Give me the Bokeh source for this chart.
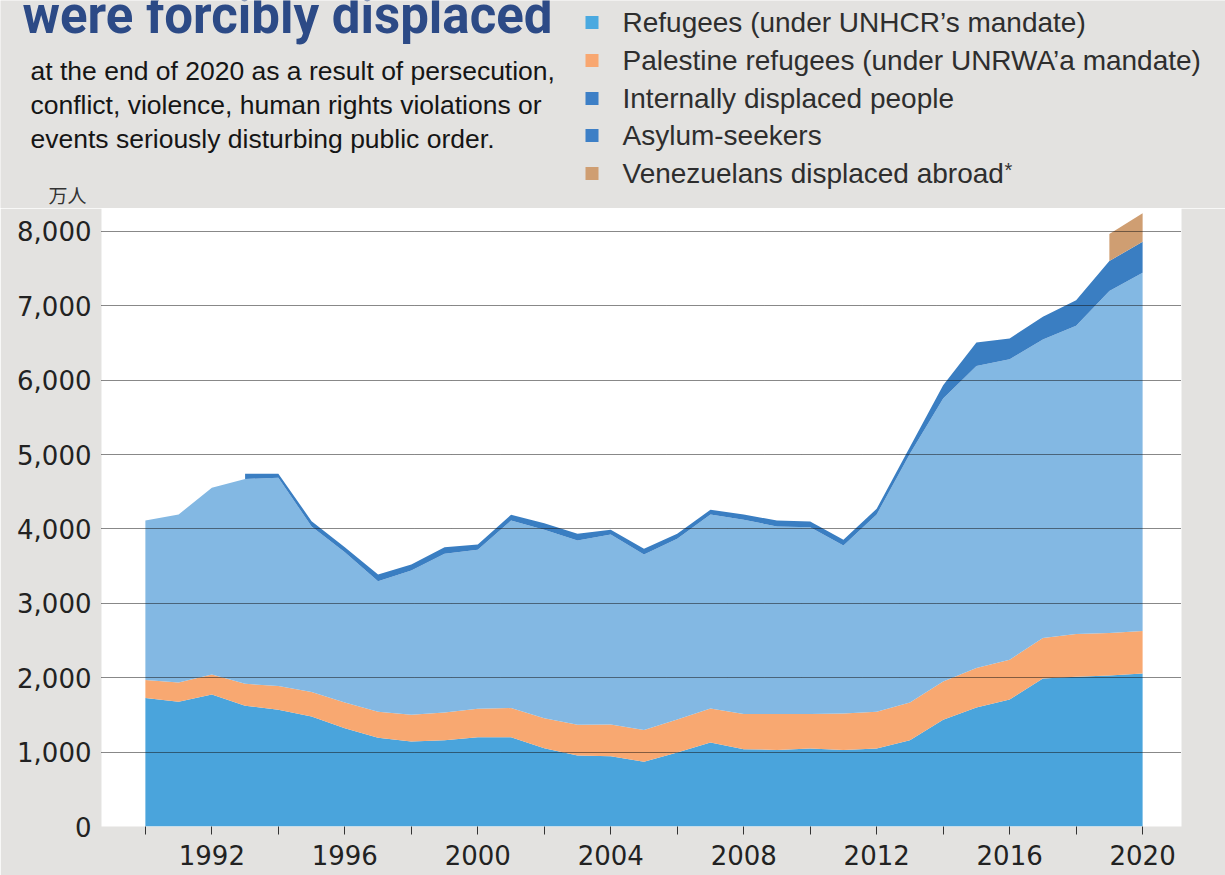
from bokeh.plotting import figure
from bokeh.layouts import column
from bokeh.models import Range1d, FixedTicker, NumeralTickFormatter, Label
from bokeh.embed import file_html
from bokeh.resources import INLINE

# ---------------- data (万人) ----------------
years = list(range(1990, 2021))
refugees = [1727, 1677, 1775, 1623, 1569, 1479, 1322, 1192, 1142, 1161,
            1201, 1201, 1053, 954, 945, 869, 994, 1129, 1040, 1030,
            1048, 1030, 1048, 1161, 1434, 1600, 1708, 1991, 2013, 2031, 2058]
palestine = [242, 260, 270, 296, 319, 328, 346, 350, 360, 372,
             381, 391, 404, 413, 426, 430, 444, 458, 471, 481,
             465, 490, 494, 507, 516, 530, 534, 543, 575, 571, 571]
idp = [2145, 2258, 2510, 2752, 2802, 2227, 2020, 1755, 1939, 2133,
       2138, 2522, 2532, 2478, 2555, 2358, 2430, 2608, 2613, 2523,
       2512, 2258, 2653, 3345, 3803, 4063, 4041, 4014, 4144, 4597, 4816]
asylum = [None, None, None, 72, 54, 71, 67, 90, 81, 89,
          71, 77, 89, 90, 63, 76, 67, 63, 71, 80,
          76, 76, 77, 89, 180, 315, 278, 305, 345, 404, 418]
venezuelans = [None] * 29 + [363, 382]

series_names = ["Refugees (under UNHCR\u2019s mandate)",
                "Palestine refugees (under UNRWA\u2019a mandate)",
                "Internally displaced people",
                "Asylum-seekers",
                "Venezuelans displaced abroad"]
y_ticks = [0, 1000, 2000, 3000, 4000, 5000, 6000, 7000, 8000]
x_label_years = [1992, 1996, 2000, 2004, 2008, 2012, 2016, 2020]
x_minor_years = [1990, 1994, 1998, 2002, 2006, 2010, 2014, 2018]
title_text = "were forcibly displaced"
subtitle = ["at the end of 2020 as a result of persecution,",
            "conflict, violence, human rights violations or",
            "events seriously disturbing public order."]
unit_text = "万人"

# ---------------- style ----------------
BG = "#e3e2e0"
area_colors = ["#4aa4dc", "#f8a871", "#83b8e3", "#3a7ec2", "#cf9e72"]
legend_colors = ["#4aa9e0", "#f8a771", "#3d7fc6", "#3d7fc6", "#cf9e72"]

W = 1225
HEAD_H = 208
MAIN_H = 875 - HEAD_H
BASE_SHIFT = 0.37  # empirical em offset of Bokeh's alphabetic baseline


def no_align(fig):
    if "frame_align" in fig.properties():
        fig.frame_align = False


def text_at(fig, x, baseline, text, font, size, color, style="normal"):
    fig.add_layout(Label(x=x, y=baseline - BASE_SHIFT * size, text=text,
                         text_font=font, text_font_style=style,
                         text_font_size=f"{size}px", text_color=color,
                         text_baseline="alphabetic"))


# ---------------- header (title, subtitle, legend) ----------------
head = figure(width=W, height=HEAD_H, output_backend="svg", toolbar_location=None,
              title=None,
              x_range=Range1d(0, W), y_range=Range1d(HEAD_H, 0),
              x_axis_type=None, y_axis_type=None,
              min_border_left=0, min_border_right=0, min_border_top=0, min_border_bottom=0)
head.background_fill_color = BG
head.border_fill_color = BG
head.outline_line_color = None
head.xgrid.visible = False
head.ygrid.visible = False
no_align(head)

text_at(head, 22, 34, title_text, "Roboto", 51, "#2c4a86", "bold")
for i, line in enumerate(subtitle):
    text_at(head, 30, 80 + 34 * i, line, "Liberation Sans", 26.5, "#151515")

row_base = [32, 70, 108, 145, 183]
head.rect(x=[591.5] * 5, y=[b - 10 for b in row_base], width=13, height=13,
          fill_color=legend_colors, line_color=None)
for name, b in zip(series_names, row_base):
    text_at(head, 622, b, name, "Liberation Sans", 28, "#2e2e2e")
text_at(head, 1004, 177, "*", "Liberation Sans", 20, "#333333")
text_at(head, 48, 201, unit_text, "Noto Sans CJK JP", 19, "#333333")

# ---------------- main chart ----------------
X0, X1 = 1988.68, 2021.17
Y0, Y1 = 0, 8309
p = figure(width=W, height=MAIN_H, output_backend="svg", toolbar_location=None,
           title=None,
           x_range=Range1d(X0, X1), y_range=Range1d(Y0, Y1),
           min_border_left=101, min_border_right=44,
           min_border_top=0, min_border_bottom=49)
p.background_fill_color = BG
p.background_fill_alpha = 0
p.border_fill_color = BG
p.outline_line_color = None
no_align(p)

s1 = refugees
s2 = [a + b for a, b in zip(s1, palestine)]
s3 = [a + b for a, b in zip(s2, idp)]
ax = [y for y, v in zip(years, asylum) if v is not None]
a_lo = [s for s, v in zip(s3, asylum) if v is not None]
a_hi = [s + v for s, v in zip(s3, asylum) if v is not None]
s4 = dict(zip(ax, a_hi))
vx = [y for y, v in zip(years, venezuelans) if v is not None]
v_lo = [s4[y] for y in vx]
v_hi = [s4[y] + v for y, v in zip(years, venezuelans) if v is not None]

p.varea(x=years, y1=[0] * len(years), y2=s1, fill_color=area_colors[0])
p.varea(x=years, y1=s1, y2=s2, fill_color=area_colors[1])
p.varea(x=years, y1=s2, y2=s3, fill_color=area_colors[2])
p.varea(x=ax, y1=a_lo, y2=a_hi, fill_color=area_colors[3])
p.varea(x=vx, y1=v_lo, y2=v_hi, fill_color=area_colors[4])

p.xaxis.ticker = FixedTicker(ticks=x_label_years, minor_ticks=x_minor_years)
p.xaxis.axis_line_color = None
p.xaxis.major_tick_in = 0
p.xaxis.major_tick_out = 8
p.xaxis.minor_tick_in = 0
p.xaxis.minor_tick_out = 8
p.xaxis.major_tick_line_color = "#333333"
p.xaxis.minor_tick_line_color = "#333333"
p.xaxis.major_label_standoff = 10
p.xaxis.major_label_text_font = "DejaVu Sans"
p.xaxis.major_label_text_font_size = "26px"
p.xaxis.major_label_text_color = "#222222"

p.yaxis.ticker = FixedTicker(ticks=y_ticks)
p.yaxis.formatter = NumeralTickFormatter(format="0,0")
p.yaxis.axis_line_color = None
p.yaxis.major_tick_line_color = None
p.yaxis.minor_tick_line_color = None
p.yaxis.major_tick_out = 0
p.yaxis.major_label_standoff = 10
p.yaxis.major_label_text_font = "DejaVu Sans"
p.yaxis.major_label_text_font_size = "26px"
p.yaxis.major_label_text_color = "#222222"

p.xgrid.visible = False
p.ygrid.grid_line_color = "#111111"
p.ygrid.grid_line_dash = "1 1"
p.ygrid.grid_line_width = 1
p.ygrid.level = "overlay"

layout = column(head, p, spacing=0)
open("out.html", "w").write(file_html(layout, INLINE))
